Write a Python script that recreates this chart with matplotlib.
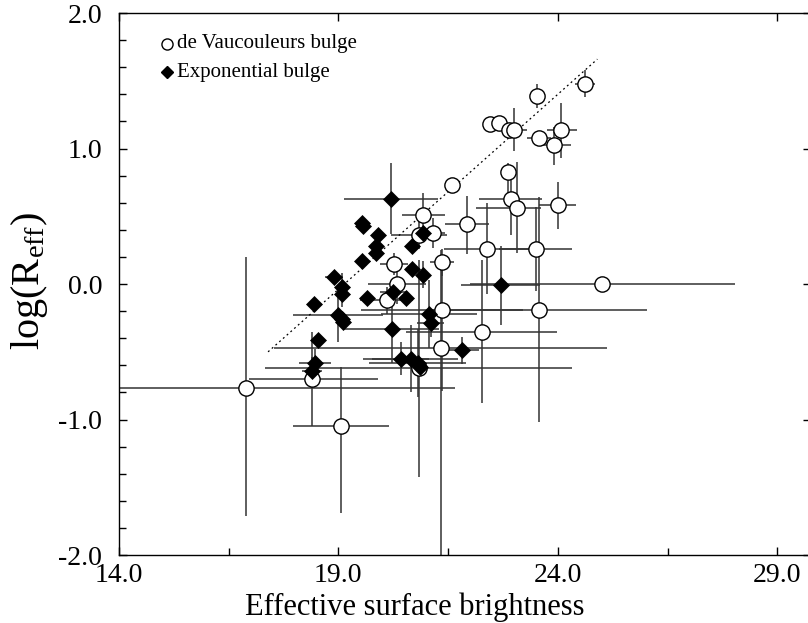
import matplotlib
matplotlib.use("Agg")
import matplotlib.pyplot as plt
import numpy as np
from matplotlib.ticker import FixedLocator, FormatStrFormatter, MultipleLocator

plt.rcParams['font.family'] = ['Liberation Serif', 'DejaVu Serif']
plt.rcParams['mathtext.fontset'] = 'custom'
plt.rcParams['mathtext.rm'] = 'Liberation Serif'
plt.rcParams['mathtext.it'] = 'Liberation Serif:italic'
plt.rcParams['axes.unicode_minus'] = False

# de Vaucouleurs bulge (open circles)
dv_x = [24.62, 23.52, 22.45, 22.66, 22.88, 23.00, 24.07, 23.57, 23.91, 22.86,
        21.59, 22.93, 23.07, 24.00, 20.92, 21.93, 21.15, 20.83, 22.38, 23.50,
        21.36, 20.26, 20.33, 20.10, 25.00, 21.36, 23.57, 22.27, 21.33, 20.83,
        18.40, 16.89, 19.06]
dv_y = [1.48, 1.39, 1.18, 1.19, 1.14, 1.14, 1.14, 1.08, 1.03, 0.83,
        0.73, 0.63, 0.56, 0.58, 0.51, 0.44, 0.38, 0.36, 0.26, 0.26,
        0.16, 0.15, 0.00, -0.12, 0.00, -0.19, -0.19, -0.35, -0.47, -0.62,
        -0.70, -0.77, -1.05]
dv_xerr_lo = [0.23, 0.14, 0.0, 0.0, 0.0, 0.30, 0.32, 0.27, 0.40, 0.0,
              0.0, 0.72, 0.93, 0.42, 0.48, 0.51, 0.28, 0.64, 0.97, 0.83,
              0.28, 0.32, 0.66, 0.60, 3.00, 1.85, 2.46, 1.72, 3.80, 3.50,
              1.44, 4.76, 1.10]
dv_xerr_hi = [0.23, 0.14, 0.0, 0.0, 0.0, 0.30, 0.36, 0.27, 0.40, 0.0,
              0.0, 0.72, 0.55, 0.42, 0.50, 0.51, 0.28, 0.64, 0.97, 0.83,
              0.28, 0.32, 0.66, 0.60, 3.03, 1.85, 2.46, 1.72, 3.80, 3.50,
              1.50, 4.76, 1.10]
dv_yerr_lo = [0.10, 0.09, 0.0, 0.0, 0.0, 0.16, 0.21, 0.04, 0.15, 0.16,
              0.0, 0.27, 0.33, 0.17, 0.16, 0.22, 0.11, 0.10, 0.33, 0.31,
              0.10, 0.08, 0.15, 0.10, 0.0, 0.60, 0.83, 0.53, 1.53, 0.80,
              0.35, 0.94, 0.64]
dv_yerr_hi = [0.10, 0.09, 0.0, 0.0, 0.0, 0.16, 0.20, 0.04, 0.13, 0.06,
              0.0, 0.21, 0.34, 0.17, 0.16, 0.21, 0.11, 0.10, 0.34, 0.31,
              0.10, 0.08, 0.15, 0.10, 0.0, 0.35, 0.83, 0.53, 0.72, 0.80,
              0.35, 0.97, 0.44]

# Exponential bulge (filled diamonds)
ex_x = [20.20, 19.55, 19.57, 19.90, 19.85, 19.85, 19.53, 20.67, 20.92, 20.67,
        20.92, 18.90, 19.08, 19.08, 18.44, 19.65, 20.24, 20.54, 18.99, 19.08,
        19.10, 22.70, 21.06, 21.10, 20.22, 18.53, 21.81, 18.47, 18.40, 20.42,
        20.65, 20.81, 20.85]
ex_y = [0.63, 0.45, 0.43, 0.36, 0.28, 0.23, 0.17, 0.28, 0.38, 0.11,
        0.07, 0.05, -0.02, -0.07, -0.15, -0.10, -0.06, -0.10, -0.23, -0.26,
        -0.28, -0.01, -0.22, -0.29, -0.33, -0.41, -0.49, -0.58, -0.64, -0.55,
        -0.55, -0.58, -0.61]
ex_xerr = [1.08, 0.0, 0.0, 0.0, 0.0, 0.0, 0.0, 0.0, 0.0, 0.0,
           0.10, 0.20, 0.10, 0.10, 0.0, 0.0, 0.30, 0.0, 1.02, 0.0,
           0.0, 0.90, 1.09, 0.30, 1.08, 0.0, 0.40, 0.36, 0.23, 0.65,
           1.08, 1.10, 0.0]
ex_yerr = [0.26, 0.0, 0.0, 0.0, 0.0, 0.0, 0.0, 0.0, 0.0, 0.0,
           0.10, 0.05, 0.10, 0.10, 0.0, 0.0, 0.10, 0.0, 0.20, 0.0,
           0.0, 0.29, 0.25, 0.10, 0.25, 0.0, 0.10, 0.10, 0.10, 0.12,
           0.25, 0.25, 0.0]

# dotted reference line end points
line_x = [17.4, 24.9]
line_y = [-0.50, 1.66]

x_major = [14, 19, 24, 29]
x_minor = [16.5, 21.5, 26.5]

fig = plt.figure(figsize=(8.08, 6.23), dpi=100)
ax = fig.add_axes([0.147, 0.109, 0.8564, 0.870])

ecol = '#333333'
ax.errorbar(dv_x, dv_y, xerr=[dv_xerr_lo, dv_xerr_hi], yerr=[dv_yerr_lo, dv_yerr_hi],
            fmt='none', ecolor=ecol, elinewidth=1.1, capsize=0, zorder=2)
ax.errorbar(ex_x, ex_y, xerr=ex_xerr, yerr=ex_yerr,
            fmt='none', ecolor=ecol, elinewidth=1.1, capsize=0, zorder=2)
ax.plot(line_x, line_y, linestyle=(0, (1.5, 2.5)), color='black', lw=0.9, zorder=3)
ax.plot(dv_x, dv_y, 'o', ms=11, mfc='white', mec='black', mew=1.0, zorder=4, linestyle='none')
ax.plot(ex_x, ex_y, 'D', ms=8.5, mfc='black', mec='black', mew=0.5, zorder=5, linestyle='none')

ax.set_xlim(14, 29.76)
ax.set_ylim(-2, 2)
ax.xaxis.set_major_locator(FixedLocator(x_major))
ax.xaxis.set_minor_locator(FixedLocator(x_minor))
ax.yaxis.set_major_locator(MultipleLocator(1))
ax.yaxis.set_minor_locator(MultipleLocator(0.2))
ax.xaxis.set_major_formatter(FormatStrFormatter('%.1f'))
ax.yaxis.set_major_formatter(FormatStrFormatter('%.1f'))
ax.tick_params(which='both', direction='in', top=True, right=True, labelsize=20,
               width=1.0, color='black')
ax.tick_params(which='major', length=6)
ax.tick_params(which='minor', length=5, top=False, right=False)
ax.tick_params(axis='x', pad=6)
ax.tick_params(axis='y', pad=12)
for s in ax.spines.values():
    s.set_linewidth(1.0)

ax.set_xlabel('Effective surface brightness', fontsize=22, va='center')
ax.xaxis.set_label_coords(0.428, -0.096)
ax.set_ylabel(r'log(R$_{\rm eff}$)', fontsize=29, va='center')
ax.yaxis.set_label_coords(-0.129, 0.505)

# legend
ax.plot([0.0697], [0.943], 'o', ms=8, mfc='white', mec='black', mew=1.0,
        transform=ax.transAxes, clip_on=False)
ax.plot([0.0697], [0.891], 'D', ms=6.5, mfc='black', mec='black',
        transform=ax.transAxes, clip_on=False)
ax.text(0.0835, 0.943, 'de Vaucouleurs bulge', transform=ax.transAxes, fontsize=15,
        va='center', ha='left')
ax.text(0.0835, 0.891, 'Exponential bulge', transform=ax.transAxes, fontsize=15,
        va='center', ha='left')

fig.savefig('out.png', dpi=100)
